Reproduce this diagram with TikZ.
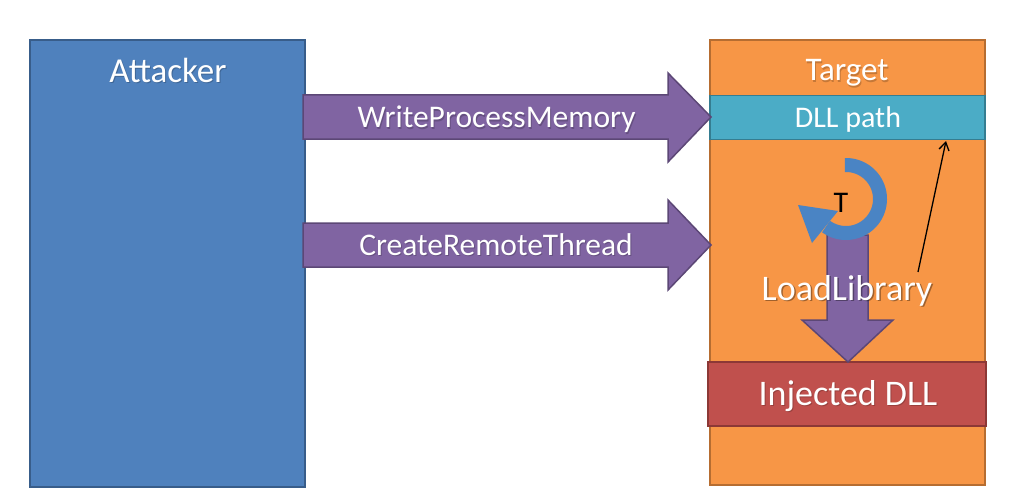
\documentclass[tikz,border=0pt]{standalone}
\usepackage{fontspec}
\setmainfont{Carlito}
\usetikzlibrary{arrows.meta}
\definecolor{atkfill}{HTML}{4F81BD}
\definecolor{atkline}{HTML}{385D8A}
\definecolor{tgtfill}{HTML}{F79646}
\definecolor{tgtline}{HTML}{B66D31}
\definecolor{dllfill}{HTML}{4BACC6}
\definecolor{dllline}{HTML}{357D91}
\definecolor{injfill}{HTML}{C0504D}
\definecolor{injline}{HTML}{8C3836}
\definecolor{arrfill}{HTML}{8064A2}
\definecolor{arrline}{HTML}{5C4776}
\definecolor{ringcol}{HTML}{4A84C4}
\tikzset{
  box/.style={rectangle, line width=1.8pt, inner sep=0pt},
  lbl/.style={text=white, inner sep=0pt, anchor=base},
  shadowlbl/.style={text=black, text opacity=0.2, inner sep=0pt, anchor=base},
  blockarrow/.style={fill=arrfill, draw=arrline, line width=1.5pt, line join=miter},
}
\begin{document}
\begin{tikzpicture}[x=1pt,y=-1pt]
\useasboundingbox[fill=white] (0,0) rectangle (1034,503);
% boxes
\node[box, fill=atkfill, draw=atkline, minimum width=275pt, minimum height=447pt] (attacker) at (167.5,263.5) {};
\node[box, fill=tgtfill, draw=tgtline, minimum width=275pt, minimum height=445pt] (target) at (847.5,262.5) {};
\node[box, fill=dllfill, draw=dllline, minimum width=275pt, minimum height=44pt] (dllpath) at (847.5,117.5) {};
\node[box, fill=injfill, draw=injline, minimum width=278pt, minimum height=64pt] (injected) at (847,394) {};
% labels
\node[shadowlbl, font=\fontsize{35}{35}\selectfont] at (169,84) {Attacker};
\node[lbl, font=\fontsize{35}{35}\selectfont] (atktext) at (168,83) {Attacker};
\node[shadowlbl, font=\fontsize{33}{33}\selectfont] at (848,82) {Target};
\node[lbl, font=\fontsize{33}{33}\selectfont] (tgttext) at (847,81) {Target};
\node[lbl, font=\fontsize{30}{30}\selectfont] (dlltext) at (848,127) {DLL path};
\node[shadowlbl, font=\fontsize{36}{36}\selectfont] at (849,406) {Injected DLL};
\node[lbl, font=\fontsize{36}{36}\selectfont] (injtext) at (848,405) {Injected DLL};
% block arrows
\draw[blockarrow] (303,95) -- (668,95) -- (668,73) -- (711,117) -- (668,162) -- (668,139) -- (303,139) -- cycle;
\draw[blockarrow] (303,223) -- (668,223) -- (668,200) -- (711,245) -- (668,290) -- (668,267) -- (303,267) -- cycle;
\node[shadowlbl, font=\fontsize{31.5}{31.5}\selectfont] at (497.5,129) {WriteProcessMemory};
\node[lbl, font=\fontsize{31.5}{31.5}\selectfont] (wpm) at (496.5,128) {WriteProcessMemory};
\node[shadowlbl, font=\fontsize{31.5}{31.5}\selectfont] at (497,256) {CreateRemoteThread};
\node[lbl, font=\fontsize{31.5}{31.5}\selectfont] (crt) at (496,255) {CreateRemoteThread};
% down arrow
\draw[blockarrow] (827,235) -- (868,235) -- (868,320) -- (893,320) -- (848,362) -- (802,320) -- (827,320) -- cycle;
% ring arrow
\draw[ringcol, line width=14pt] plot[domain=-92:126, samples=60] ({846+34*cos(\x)}, {199+34*sin(\x)});
\fill[ringcol] (798,205) -- (812,243) -- (838,211) -- cycle;
\node[inner sep=0pt, anchor=base, font=\fontsize{30}{30}\selectfont] (ttext) at (841,212) {T};
% LoadLibrary
\node[text=black, text opacity=0.35, inner sep=0pt, anchor=base, font=\fontsize{36}{36}\selectfont] at (848.5,301.5) {LoadLibrary};
\node[lbl, font=\fontsize{36}{36}\selectfont] (lltext) at (847,300) {LoadLibrary};
% thin arrow
\coordinate (llstart) at (918,272);
\coordinate (dllend) at (946,141);
\draw[line width=1.3pt, -{Straight Barb[length=8pt,width=10pt]}] (llstart) -- (dllend);
\end{tikzpicture}
\end{document}
